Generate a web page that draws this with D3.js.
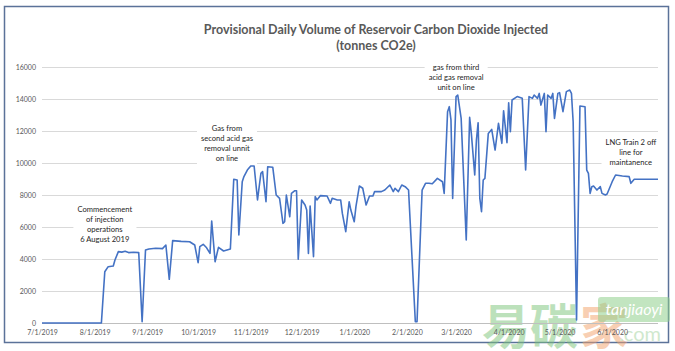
<!DOCTYPE html>
<html>
<head>
<meta charset="utf-8">
<script src="https://cdn.jsdelivr.net/npm/d3@7"></script>
<style>
  body { margin: 0; background: #fff; }
  svg { display: block; }
  .tick text { fill: #595959; font-family: Lato, "Open Sans", sans-serif; }
</style>
</head>
<body>
<div id="chart"></div>
<script>
// Drawing space
const width = 675,
  height = 351,
  margin = { top: 67, bottom: 28, left: 42, right: 17 };

// Data
const dates = [
  "2019-07-01","2019-08-05","2019-08-07","2019-08-09","2019-08-12","2019-08-13","2019-08-15","2019-08-17",
  "2019-08-19","2019-08-21","2019-08-24","2019-08-27","2019-08-29","2019-08-31","2019-09-02","2019-09-06",
  "2019-09-10","2019-09-12","2019-09-14","2019-09-16","2019-09-21","2019-09-26","2019-09-29","2019-10-01",
  "2019-10-02","2019-10-04","2019-10-06","2019-10-08","2019-10-09","2019-10-11","2019-10-13","2019-10-16",
  "2019-10-20","2019-10-22","2019-10-24","2019-10-25","2019-10-27","2019-10-28","2019-10-30","2019-11-01",
  "2019-11-03","2019-11-05","2019-11-07","2019-11-08","2019-11-10","2019-11-11","2019-11-14","2019-11-16",
  "2019-11-18","2019-11-20","2019-11-21","2019-11-22","2019-11-24","2019-11-25","2019-11-27","2019-11-28",
  "2019-11-29","2019-12-01","2019-12-03","2019-12-04","2019-12-05","2019-12-06","2019-12-08","2019-12-09",
  "2019-12-10","2019-12-12","2019-12-16","2019-12-18","2019-12-19","2019-12-22","2019-12-24","2019-12-25",
  "2019-12-27","2019-12-29","2019-12-30","2020-01-01","2020-01-02","2020-01-04","2020-01-06","2020-01-07",
  "2020-01-08","2020-01-10","2020-01-12","2020-01-13","2020-01-17","2020-01-19","2020-01-22","2020-01-24",
  "2020-01-25","2020-01-27","2020-01-29","2020-01-31","2020-02-02","2020-02-06","2020-02-07","2020-02-10",
  "2020-02-12","2020-02-14","2020-02-16","2020-02-19","2020-02-22","2020-02-23","2020-02-25","2020-02-26",
  "2020-02-27","2020-02-28","2020-03-01","2020-03-02","2020-03-04","2020-03-07","2020-03-09","2020-03-10",
  "2020-03-12","2020-03-13","2020-03-14","2020-03-15","2020-03-16","2020-03-17","2020-03-18","2020-03-20",
  "2020-03-22","2020-03-24","2020-03-26","2020-03-28","2020-03-29","2020-03-31","2020-04-01","2020-04-02",
  "2020-04-03","2020-04-06","2020-04-09","2020-04-11","2020-04-13","2020-04-15","2020-04-16","2020-04-18",
  "2020-04-19","2020-04-20","2020-04-22","2020-04-23","2020-04-24","2020-04-26","2020-04-27","2020-04-28",
  "2020-04-30","2020-05-01","2020-05-03","2020-05-05","2020-05-07","2020-05-08","2020-05-09","2020-05-11",
  "2020-05-13","2020-05-16","2020-05-17","2020-05-18","2020-05-19","2020-05-20","2020-05-21","2020-05-23",
  "2020-05-25","2020-05-26","2020-05-28","2020-05-29","2020-06-01","2020-06-03","2020-06-07","2020-06-11",
  "2020-06-12","2020-06-14","2020-06-17","2020-06-28"
];
const volumes = [
  0,0,3200,3520,3560,3940,4460,4430,
  4480,4400,4420,4400,80,4560,4620,4670,
  4650,4875,2730,5150,5100,5080,4875,3770,
  4770,4920,4700,4350,6375,3830,4730,4500,
  4625,8980,8940,5500,8830,9150,9560,9810,
  9810,7690,9350,9460,7580,9770,9730,8000,
  7790,6230,6330,8000,6640,8100,8270,8270,
  3980,7690,7375,7060,4350,7310,4150,7900,
  7690,7960,7940,7480,7790,7690,7690,6850,
  5710,7580,7060,6330,7270,8560,8420,7900,
  7375,7940,7940,8210,8210,8310,8625,8210,
  8420,8210,8625,8520,8310,80,80,8310,
  8730,8730,8700,9040,8830,8100,13210,13520,
  12690,7790,14150,14250,12790,5190,12850,11850,
  9250,11440,12520,7790,6960,8940,9040,11850,
  12100,10810,12480,11230,13270,11270,13770,11960,
  13940,14150,14040,9560,14150,14040,14250,14040,
  14350,13620,14350,11960,14250,14040,14350,12790,
  14350,14400,13210,14460,14560,14350,12580,190,
  13560,13520,9560,9350,8100,8520,8560,8310,
  8520,8100,8000,8060,8830,9250,9190,9150,
  8730,8980,8980,8980
];
const yTicks = [0, 2000, 4000, 6000, 8000, 10000, 12000, 14000, 16000];
const xTicks = ["2019-07-01","2019-08-01","2019-09-01","2019-10-01","2019-11-01","2019-12-01",
  "2020-01-01","2020-02-01","2020-03-01","2020-04-01","2020-05-01","2020-06-01"];
const titleLines = ["Provisional Daily Volume of Reservoir Carbon Dioxide Injected", "(tonnes CO2e)"];

// notes: date and value where each text block is centred
const notes = [
  { date: "2019-08-07", value: 6150, lines: ["Commencement", "of injection", "operations", "6 August 2019"] },
  { date: "2019-10-18", value: 11200, lines: ["Gas from", "second acid gas", "removal unnit", "on line"] },
  { date: "2020-03-01", value: 15380, lines: ["gas from third", "acid gas removal", "unit on line"] },
  { date: "2020-06-12", value: 10650, lines: ["LNG Train 2 off", "line for", "maintanence"] }
];

const parseDate = d3.timeParse("%Y-%m-%d");
const formatDate = d3.timeFormat("%-m/%-d/%Y");

const data = dates.map((d, i) => ({ date: parseDate(d), value: volumes[i] }));

// Scales
const xScale = d3.scaleTime()
  .domain([parseDate("2019-07-01"), parseDate("2020-06-28")])
  .range([margin.left, width - margin.right]);

const yScale = d3.scaleLinear()
  .domain([0, 16000])
  .range([height - margin.bottom, margin.top]);

const svg = d3.select("#chart")
  .append("svg")
  .attr("width", width)
  .attr("height", height);

// outer frame
svg.append("rect")
  .attr("x", 4.5)
  .attr("y", 6.5)
  .attr("width", 664)
  .attr("height", 336)
  .attr("fill", "#fff")
  .attr("stroke", "#5b7299")
  .attr("stroke-width", 1.5);

// title
svg.append("g")
  .selectAll("text")
  .data(titleLines)
  .join("text")
  .attr("x", 376)
  .attr("y", (d, i) => 34 + i * 16)
  .attr("text-anchor", "middle")
  .attr("font-family", "Lato, 'Open Sans', sans-serif")
  .attr("font-weight", "bold")
  .attr("font-size", 12.5)
  .attr("fill", "#595959")
  .text(d => d);

// watermark sits under the axis labels so they stay readable
const wm = svg.append("g").attr("font-family", "'Noto Sans CJK SC', sans-serif");
wm.append("text")
  .attr("x", 482).attr("y", 344)
  .attr("font-size", 48).attr("font-weight", "bold")
  .attr("fill", "#7cc47a").attr("opacity", 0.5)
  .text("易碳");
wm.append("text")
  .attr("x", 580).attr("y", 344)
  .attr("font-size", 48).attr("font-weight", "bold")
  .attr("fill", "#f3a06a").attr("opacity", 0.5)
  .text("家");
wm.append("rect")
  .attr("x", 598).attr("y", 297)
  .attr("width", 72).attr("height", 25).attr("rx", 3)
  .attr("fill", "#8fcf8c").attr("opacity", 0.55);
wm.append("text")
  .attr("x", 634).attr("y", 315)
  .attr("text-anchor", "middle")
  .attr("font-family", "Lato, sans-serif")
  .attr("font-style", "italic")
  .attr("font-size", 16)
  .attr("fill", "#fff")
  .text("tanjiaoyi");
wm.append("text")
  .attr("x", 640).attr("y", 341)
  .attr("text-anchor", "middle")
  .attr("font-family", "Lato, sans-serif")
  .attr("font-size", 20)
  .attr("fill", "#cfe8cd")
  .text(".com");

// y axis with gridlines
const yAxisGroup = svg.append("g")
  .attr("transform", `translate(${margin.left}, 0)`)
  .call(d3.axisLeft(yScale)
    .tickValues(yTicks)
    .tickSize(-(width - margin.left - margin.right))
    .tickPadding(6)
    .tickFormat(d3.format("d")));

yAxisGroup.select(".domain").remove();
yAxisGroup.selectAll(".tick line")
  .attr("stroke", d => d === 0 ? "#bfbfbf" : "#d9d9d9");
yAxisGroup.selectAll(".tick text")
  .attr("font-size", 7);

// x axis
const xAxisGroup = svg.append("g")
  .attr("transform", `translate(0, ${height - margin.bottom})`)
  .call(d3.axisBottom(xScale)
    .tickValues(xTicks.map(parseDate))
    .tickSize(0)
    .tickPadding(7)
    .tickFormat(formatDate));

xAxisGroup.select(".domain").remove();
xAxisGroup.selectAll(".tick text")
  .attr("font-size", 7);

// annotations, each on a white box that hides the gridlines behind it
notes.forEach(n => {
  const g = svg.append("g");
  const cx = xScale(parseDate(n.date)),
    cy = yScale(n.value),
    lh = 10,
    top = cy - (n.lines.length - 1) * lh / 2;
  g.selectAll("text")
    .data(n.lines)
    .join("text")
    .attr("x", cx)
    .attr("y", (d, i) => top + i * lh)
    .attr("dy", "0.35em")
    .attr("text-anchor", "middle")
    .attr("font-family", "Lato, 'Open Sans', sans-serif")
    .attr("font-size", 7.6)
    .attr("fill", "#262626")
    .text(d => d);
  const box = g.node().getBBox();
  g.insert("rect", "text")
    .attr("x", box.x - 4)
    .attr("y", box.y - 3)
    .attr("width", box.width + 8)
    .attr("height", box.height + 6)
    .attr("fill", "#fff");
});

// the line
const lineFunction = d3.line()
  .x(d => xScale(d.date))
  .y(d => yScale(d.value));

svg.append("path")
  .datum(data)
  .attr("d", lineFunction)
  .attr("fill", "none")
  .attr("stroke", "#4472c4")
  .attr("stroke-width", 1.6)
  .attr("stroke-linejoin", "round");
</script>
</body>
</html>
